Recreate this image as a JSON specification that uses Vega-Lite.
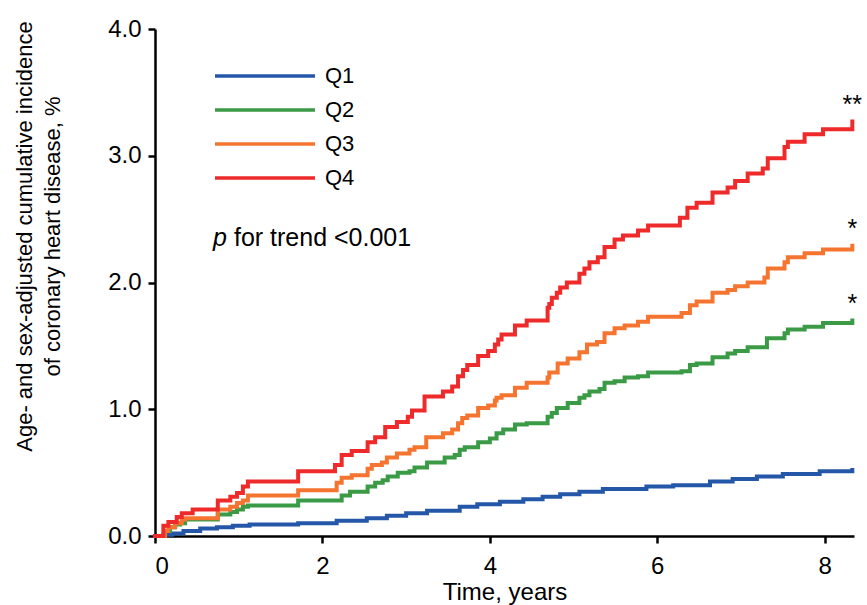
{
  "$schema": "https://vega.github.io/schema/vega-lite/v6.json",
  "width": 699,
  "height": 507,
  "autosize": {"type": "none"},
  "padding": {"left": 155, "top": 29, "right": 13, "bottom": 69},
  "background": "white",
  "config": {"view": {"stroke": null}, "font": "Liberation Sans"},
  "datasets": {
    "km": [
      {"q": "Q1", "t": 0, "v": 0},
      {"q": "Q1", "t": 0.10, "v": 0.01},
      {"q": "Q1", "t": 0.20, "v": 0.02},
      {"q": "Q1", "t": 0.34, "v": 0.04},
      {"q": "Q1", "t": 0.54, "v": 0.06},
      {"q": "Q1", "t": 0.74, "v": 0.07},
      {"q": "Q1", "t": 0.93, "v": 0.08},
      {"q": "Q1", "t": 1.13, "v": 0.09},
      {"q": "Q1", "t": 1.71, "v": 0.10},
      {"q": "Q1", "t": 2.17, "v": 0.12},
      {"q": "Q1", "t": 2.53, "v": 0.14},
      {"q": "Q1", "t": 2.77, "v": 0.16},
      {"q": "Q1", "t": 3.00, "v": 0.18},
      {"q": "Q1", "t": 3.25, "v": 0.20},
      {"q": "Q1", "t": 3.64, "v": 0.23},
      {"q": "Q1", "t": 3.85, "v": 0.25},
      {"q": "Q1", "t": 4.12, "v": 0.27},
      {"q": "Q1", "t": 4.40, "v": 0.29},
      {"q": "Q1", "t": 4.63, "v": 0.31},
      {"q": "Q1", "t": 4.84, "v": 0.33},
      {"q": "Q1", "t": 5.07, "v": 0.35},
      {"q": "Q1", "t": 5.35, "v": 0.37},
      {"q": "Q1", "t": 5.87, "v": 0.39},
      {"q": "Q1", "t": 6.19, "v": 0.40},
      {"q": "Q1", "t": 6.63, "v": 0.43},
      {"q": "Q1", "t": 6.90, "v": 0.45},
      {"q": "Q1", "t": 7.19, "v": 0.47},
      {"q": "Q1", "t": 7.50, "v": 0.49},
      {"q": "Q1", "t": 7.94, "v": 0.51},
      {"q": "Q1", "t": 8.33, "v": 0.52},
      {"q": "Q2", "t": 0, "v": 0},
      {"q": "Q2", "t": 0.12, "v": 0.04},
      {"q": "Q2", "t": 0.18, "v": 0.07},
      {"q": "Q2", "t": 0.24, "v": 0.09},
      {"q": "Q2", "t": 0.30, "v": 0.10},
      {"q": "Q2", "t": 0.36, "v": 0.13},
      {"q": "Q2", "t": 0.75, "v": 0.17},
      {"q": "Q2", "t": 0.90, "v": 0.19},
      {"q": "Q2", "t": 0.98, "v": 0.21},
      {"q": "Q2", "t": 1.05, "v": 0.23},
      {"q": "Q2", "t": 1.11, "v": 0.24},
      {"q": "Q2", "t": 1.71, "v": 0.28},
      {"q": "Q2", "t": 2.23, "v": 0.32},
      {"q": "Q2", "t": 2.33, "v": 0.35},
      {"q": "Q2", "t": 2.54, "v": 0.39},
      {"q": "Q2", "t": 2.63, "v": 0.42},
      {"q": "Q2", "t": 2.72, "v": 0.44},
      {"q": "Q2", "t": 2.78, "v": 0.47},
      {"q": "Q2", "t": 2.90, "v": 0.50},
      {"q": "Q2", "t": 3.04, "v": 0.51},
      {"q": "Q2", "t": 3.10, "v": 0.54},
      {"q": "Q2", "t": 3.25, "v": 0.58},
      {"q": "Q2", "t": 3.46, "v": 0.62},
      {"q": "Q2", "t": 3.58, "v": 0.64},
      {"q": "Q2", "t": 3.64, "v": 0.68},
      {"q": "Q2", "t": 3.70, "v": 0.70},
      {"q": "Q2", "t": 3.86, "v": 0.74},
      {"q": "Q2", "t": 4.00, "v": 0.77},
      {"q": "Q2", "t": 4.08, "v": 0.81},
      {"q": "Q2", "t": 4.16, "v": 0.84},
      {"q": "Q2", "t": 4.30, "v": 0.88},
      {"q": "Q2", "t": 4.44, "v": 0.89},
      {"q": "Q2", "t": 4.69, "v": 0.94},
      {"q": "Q2", "t": 4.74, "v": 0.97},
      {"q": "Q2", "t": 4.80, "v": 1.01},
      {"q": "Q2", "t": 4.93, "v": 1.05},
      {"q": "Q2", "t": 5.07, "v": 1.09},
      {"q": "Q2", "t": 5.13, "v": 1.11},
      {"q": "Q2", "t": 5.19, "v": 1.14},
      {"q": "Q2", "t": 5.31, "v": 1.16},
      {"q": "Q2", "t": 5.37, "v": 1.21},
      {"q": "Q2", "t": 5.49, "v": 1.22},
      {"q": "Q2", "t": 5.61, "v": 1.25},
      {"q": "Q2", "t": 5.77, "v": 1.26},
      {"q": "Q2", "t": 5.89, "v": 1.29},
      {"q": "Q2", "t": 6.29, "v": 1.30},
      {"q": "Q2", "t": 6.39, "v": 1.35},
      {"q": "Q2", "t": 6.47, "v": 1.36},
      {"q": "Q2", "t": 6.66, "v": 1.41},
      {"q": "Q2", "t": 6.84, "v": 1.44},
      {"q": "Q2", "t": 6.93, "v": 1.46},
      {"q": "Q2", "t": 7.08, "v": 1.49},
      {"q": "Q2", "t": 7.31, "v": 1.56},
      {"q": "Q2", "t": 7.52, "v": 1.60},
      {"q": "Q2", "t": 7.56, "v": 1.63},
      {"q": "Q2", "t": 7.76, "v": 1.65},
      {"q": "Q2", "t": 7.98, "v": 1.68},
      {"q": "Q2", "t": 8.33, "v": 1.70, "sig": "*"},
      {"q": "Q3", "t": 0, "v": 0},
      {"q": "Q3", "t": 0.12, "v": 0.04},
      {"q": "Q3", "t": 0.16, "v": 0.07},
      {"q": "Q3", "t": 0.24, "v": 0.10},
      {"q": "Q3", "t": 0.32, "v": 0.13},
      {"q": "Q3", "t": 0.36, "v": 0.14},
      {"q": "Q3", "t": 0.75, "v": 0.21},
      {"q": "Q3", "t": 0.90, "v": 0.23},
      {"q": "Q3", "t": 0.98, "v": 0.26},
      {"q": "Q3", "t": 1.05, "v": 0.28},
      {"q": "Q3", "t": 1.11, "v": 0.32},
      {"q": "Q3", "t": 1.71, "v": 0.36},
      {"q": "Q3", "t": 2.17, "v": 0.42},
      {"q": "Q3", "t": 2.23, "v": 0.46},
      {"q": "Q3", "t": 2.35, "v": 0.48},
      {"q": "Q3", "t": 2.54, "v": 0.53},
      {"q": "Q3", "t": 2.59, "v": 0.56},
      {"q": "Q3", "t": 2.71, "v": 0.58},
      {"q": "Q3", "t": 2.77, "v": 0.62},
      {"q": "Q3", "t": 2.89, "v": 0.65},
      {"q": "Q3", "t": 3.04, "v": 0.68},
      {"q": "Q3", "t": 3.10, "v": 0.70},
      {"q": "Q3", "t": 3.24, "v": 0.78},
      {"q": "Q3", "t": 3.44, "v": 0.81},
      {"q": "Q3", "t": 3.55, "v": 0.84},
      {"q": "Q3", "t": 3.62, "v": 0.89},
      {"q": "Q3", "t": 3.67, "v": 0.93},
      {"q": "Q3", "t": 3.73, "v": 0.95},
      {"q": "Q3", "t": 3.86, "v": 1.01},
      {"q": "Q3", "t": 3.98, "v": 1.03},
      {"q": "Q3", "t": 4.06, "v": 1.07},
      {"q": "Q3", "t": 4.08, "v": 1.09},
      {"q": "Q3", "t": 4.14, "v": 1.11},
      {"q": "Q3", "t": 4.30, "v": 1.17},
      {"q": "Q3", "t": 4.44, "v": 1.21},
      {"q": "Q3", "t": 4.69, "v": 1.25},
      {"q": "Q3", "t": 4.71, "v": 1.29},
      {"q": "Q3", "t": 4.81, "v": 1.36},
      {"q": "Q3", "t": 4.93, "v": 1.40},
      {"q": "Q3", "t": 5.07, "v": 1.45},
      {"q": "Q3", "t": 5.16, "v": 1.51},
      {"q": "Q3", "t": 5.28, "v": 1.53},
      {"q": "Q3", "t": 5.37, "v": 1.60},
      {"q": "Q3", "t": 5.49, "v": 1.64},
      {"q": "Q3", "t": 5.61, "v": 1.66},
      {"q": "Q3", "t": 5.77, "v": 1.69},
      {"q": "Q3", "t": 5.89, "v": 1.73},
      {"q": "Q3", "t": 6.29, "v": 1.76},
      {"q": "Q3", "t": 6.39, "v": 1.82},
      {"q": "Q3", "t": 6.47, "v": 1.85},
      {"q": "Q3", "t": 6.66, "v": 1.92},
      {"q": "Q3", "t": 6.84, "v": 1.94},
      {"q": "Q3", "t": 6.93, "v": 1.97},
      {"q": "Q3", "t": 7.08, "v": 2.00},
      {"q": "Q3", "t": 7.28, "v": 2.04},
      {"q": "Q3", "t": 7.32, "v": 2.11},
      {"q": "Q3", "t": 7.52, "v": 2.16},
      {"q": "Q3", "t": 7.56, "v": 2.20},
      {"q": "Q3", "t": 7.76, "v": 2.23},
      {"q": "Q3", "t": 7.98, "v": 2.26},
      {"q": "Q3", "t": 8.33, "v": 2.29, "sig": "*"},
      {"q": "Q4", "t": 0, "v": 0},
      {"q": "Q4", "t": 0.10, "v": 0.08},
      {"q": "Q4", "t": 0.16, "v": 0.11},
      {"q": "Q4", "t": 0.26, "v": 0.15},
      {"q": "Q4", "t": 0.32, "v": 0.18},
      {"q": "Q4", "t": 0.45, "v": 0.21},
      {"q": "Q4", "t": 0.75, "v": 0.28},
      {"q": "Q4", "t": 0.90, "v": 0.31},
      {"q": "Q4", "t": 0.98, "v": 0.34},
      {"q": "Q4", "t": 1.05, "v": 0.39},
      {"q": "Q4", "t": 1.11, "v": 0.43},
      {"q": "Q4", "t": 1.71, "v": 0.51},
      {"q": "Q4", "t": 2.15, "v": 0.56},
      {"q": "Q4", "t": 2.23, "v": 0.64},
      {"q": "Q4", "t": 2.35, "v": 0.67},
      {"q": "Q4", "t": 2.54, "v": 0.74},
      {"q": "Q4", "t": 2.63, "v": 0.78},
      {"q": "Q4", "t": 2.75, "v": 0.86},
      {"q": "Q4", "t": 2.89, "v": 0.90},
      {"q": "Q4", "t": 3.02, "v": 0.94},
      {"q": "Q4", "t": 3.07, "v": 0.99},
      {"q": "Q4", "t": 3.22, "v": 1.10},
      {"q": "Q4", "t": 3.44, "v": 1.14},
      {"q": "Q4", "t": 3.55, "v": 1.18},
      {"q": "Q4", "t": 3.62, "v": 1.26},
      {"q": "Q4", "t": 3.68, "v": 1.31},
      {"q": "Q4", "t": 3.73, "v": 1.35},
      {"q": "Q4", "t": 3.86, "v": 1.42},
      {"q": "Q4", "t": 3.98, "v": 1.46},
      {"q": "Q4", "t": 4.06, "v": 1.51},
      {"q": "Q4", "t": 4.10, "v": 1.55},
      {"q": "Q4", "t": 4.14, "v": 1.59},
      {"q": "Q4", "t": 4.30, "v": 1.66},
      {"q": "Q4", "t": 4.44, "v": 1.70},
      {"q": "Q4", "t": 4.69, "v": 1.80},
      {"q": "Q4", "t": 4.71, "v": 1.83},
      {"q": "Q4", "t": 4.74, "v": 1.88},
      {"q": "Q4", "t": 4.80, "v": 1.92},
      {"q": "Q4", "t": 4.84, "v": 1.96},
      {"q": "Q4", "t": 4.92, "v": 2.00},
      {"q": "Q4", "t": 5.07, "v": 2.07},
      {"q": "Q4", "t": 5.13, "v": 2.11},
      {"q": "Q4", "t": 5.19, "v": 2.16},
      {"q": "Q4", "t": 5.29, "v": 2.20},
      {"q": "Q4", "t": 5.37, "v": 2.28},
      {"q": "Q4", "t": 5.49, "v": 2.34},
      {"q": "Q4", "t": 5.59, "v": 2.37},
      {"q": "Q4", "t": 5.77, "v": 2.41},
      {"q": "Q4", "t": 5.89, "v": 2.45},
      {"q": "Q4", "t": 6.27, "v": 2.51},
      {"q": "Q4", "t": 6.36, "v": 2.59},
      {"q": "Q4", "t": 6.47, "v": 2.63},
      {"q": "Q4", "t": 6.66, "v": 2.71},
      {"q": "Q4", "t": 6.84, "v": 2.75},
      {"q": "Q4", "t": 6.93, "v": 2.80},
      {"q": "Q4", "t": 7.08, "v": 2.86},
      {"q": "Q4", "t": 7.26, "v": 2.90},
      {"q": "Q4", "t": 7.32, "v": 2.98},
      {"q": "Q4", "t": 7.52, "v": 3.07},
      {"q": "Q4", "t": 7.56, "v": 3.11},
      {"q": "Q4", "t": 7.76, "v": 3.17},
      {"q": "Q4", "t": 7.98, "v": 3.21},
      {"q": "Q4", "t": 8.33, "v": 3.27, "sig": "**"}
    ],
    "note": [{"italic": "p", "rest": "for trend <0.001", "t": 0.6925, "v": 2.29}]
  },
  "layer": [
    {
      "data": {"name": "km"},
      "mark": {"type": "line", "interpolate": "step-after", "strokeWidth": 4, "strokeCap": "square"},
      "encoding": {
        "x": {
          "field": "t", "type": "quantitative",
          "scale": {"domain": [0, 8.35], "nice": false, "zero": false},
          "axis": {
            "values": [0, 2, 4, 6, 8], "format": "d", "grid": false,
            "labelFontSize": 24, "labelColor": "black", "labelPadding": 11,
            "tickColor": "black", "tickWidth": 2.5, "tickSize": 7,
            "domainColor": "black", "domainWidth": 2.5,
            "title": "Time, years", "titleFontSize": 24, "titleFontWeight": "normal",
            "titleColor": "black", "titlePadding": 2
          }
        },
        "y": {
          "field": "v", "type": "quantitative",
          "scale": {"domain": [0, 4], "nice": false},
          "axis": {
            "values": [0, 1, 2, 3, 4], "format": ".1f", "grid": false,
            "labelFontSize": 24, "labelColor": "black", "labelPadding": 7,
            "tickColor": "black", "tickWidth": 2.5, "tickSize": 7,
            "domainColor": "black", "domainWidth": 2.5,
            "title": ["Age- and sex-adjusted cumulative incidence", "of coronary heart disease, %"],
            "titleFontSize": 22, "titleFontWeight": "normal", "titleColor": "black",
            "titleLineHeight": 28, "titleBaseline": "middle",
            "titleX": -131, "titleY": 207
          }
        },
        "color": {
          "field": "q", "type": "nominal",
          "scale": {"domain": ["Q1", "Q2", "Q3", "Q4"], "range": ["#2457a8", "#3a9a46", "#f57430", "#ee2a2a"]},
          "legend": {
            "orient": "none", "legendX": 98, "legendY": 35, "title": null,
            "symbolType": "M-5,0H5", "symbolSize": 400, "symbolStrokeWidth": 3.5,
            "labelFontSize": 22, "labelColor": "black", "labelOffset": 48, "rowPadding": 11
          }
        }
      }
    },
    {
      "data": {"name": "km"},
      "transform": [{"filter": "datum.sig"}],
      "mark": {"type": "text", "dy": -17, "fontSize": 25, "color": "black", "align": "center"},
      "encoding": {
        "x": {"field": "t", "type": "quantitative"},
        "y": {"field": "v", "type": "quantitative"},
        "text": {"field": "sig"}
      }
    },
    {
      "data": {"name": "note"},
      "mark": {"type": "text", "fontStyle": "italic", "fontSize": 25, "color": "black", "align": "left", "baseline": "alphabetic"},
      "encoding": {
        "x": {"field": "t", "type": "quantitative"},
        "y": {"field": "v", "type": "quantitative"},
        "text": {"field": "italic"}
      }
    },
    {
      "data": {"name": "note"},
      "mark": {"type": "text", "fontSize": 25, "color": "black", "align": "left", "baseline": "alphabetic", "dx": 21},
      "encoding": {
        "x": {"field": "t", "type": "quantitative"},
        "y": {"field": "v", "type": "quantitative"},
        "text": {"field": "rest"}
      }
    }
  ]
}
